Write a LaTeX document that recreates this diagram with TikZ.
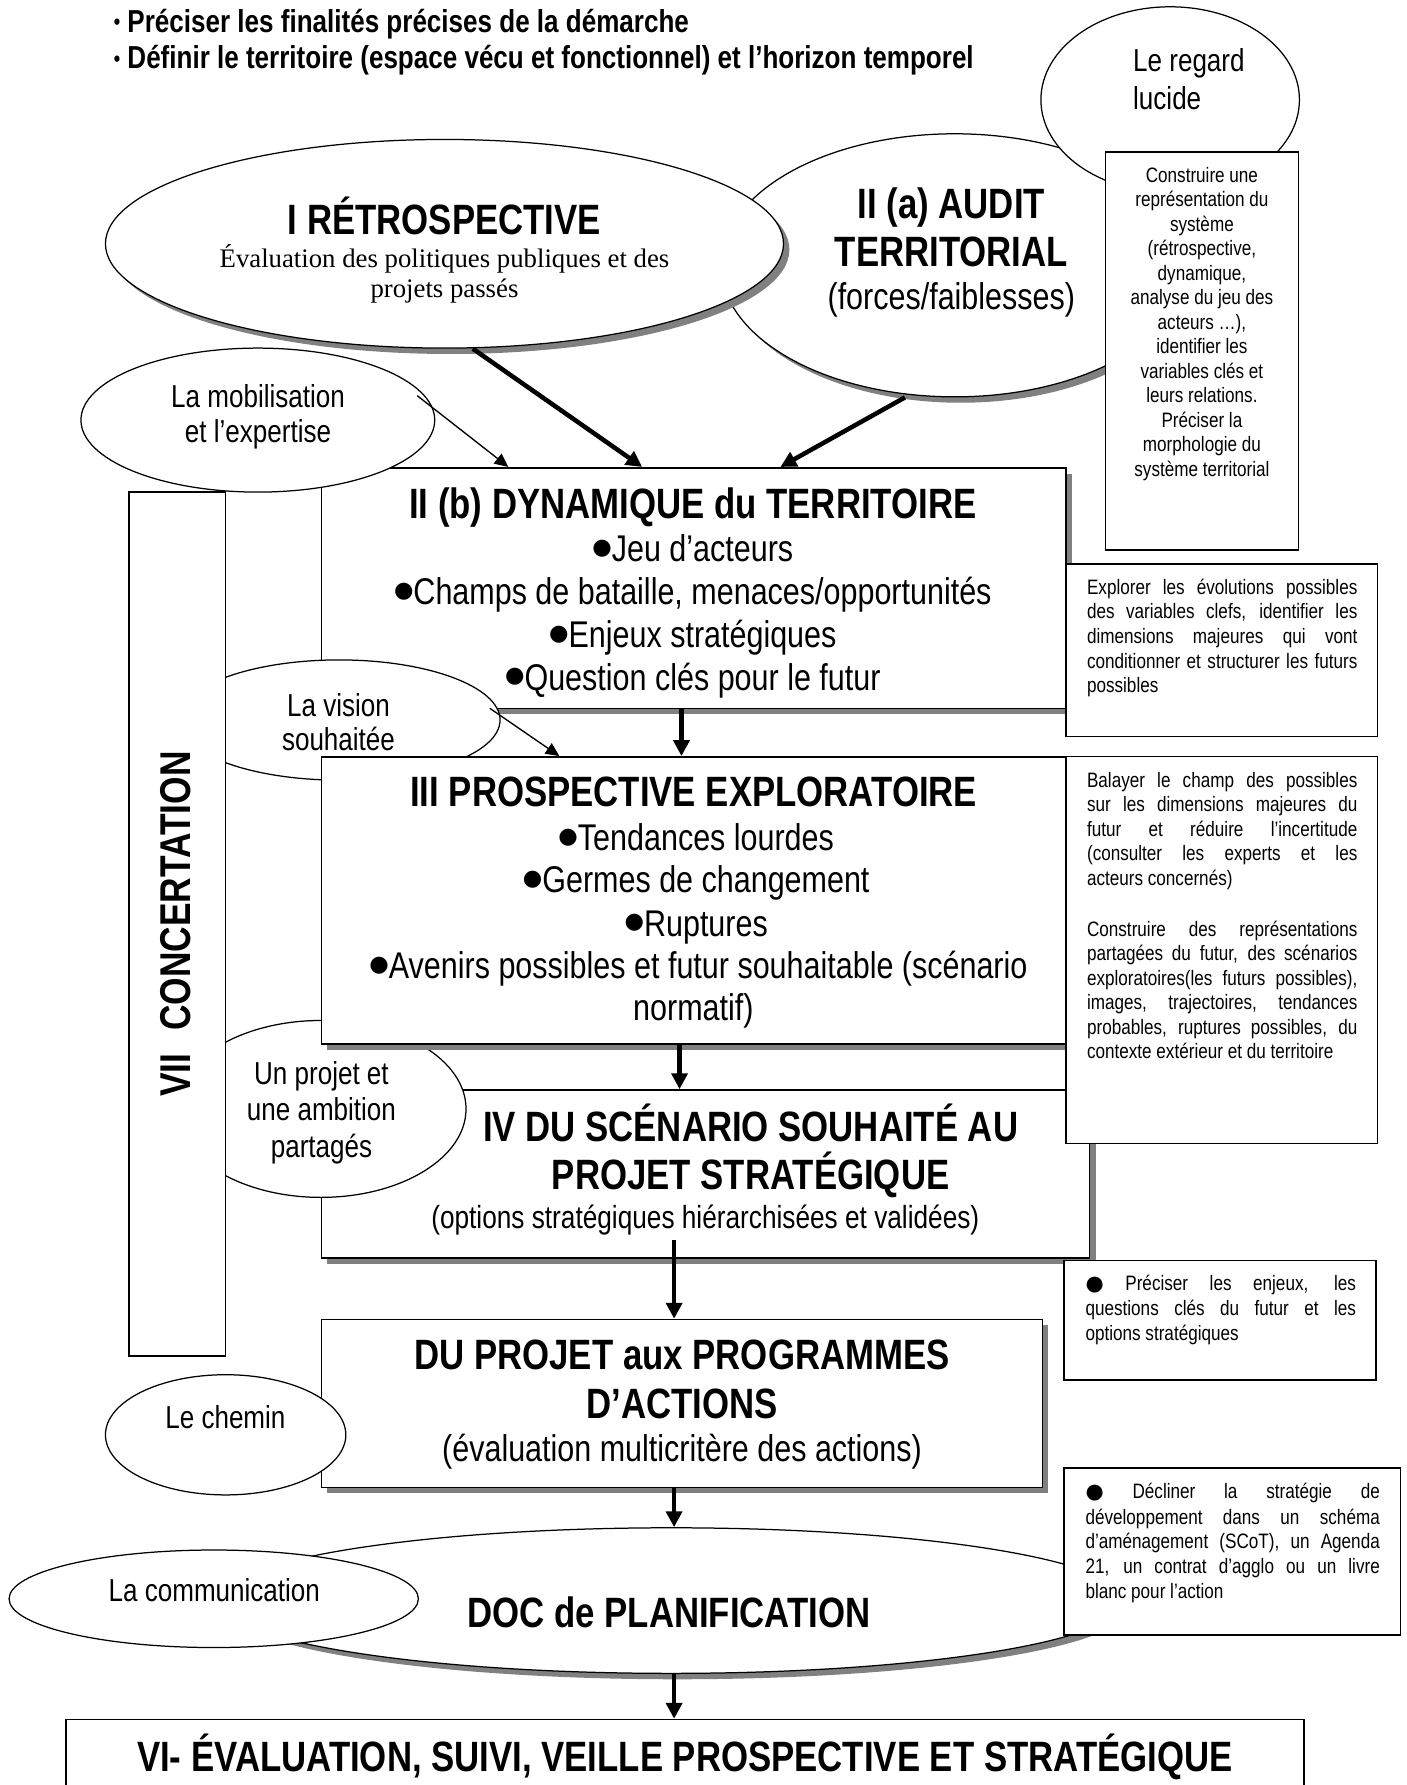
\documentclass[tikz,border=0pt]{standalone}
\usepackage{fontspec}
\setmainfont{Liberation Sans}[FakeStretch=0.82]
\newfontfamily\tnr{Liberation Serif}
\newfontfamily\dejavu{DejaVu Sans}
\usepackage{graphicx}
\usetikzlibrary{shapes.geometric,arrows.meta,shadows,calc}
\newcounter{tl}
\newcommand\txtl[4]{\stepcounter{tl}\node[tl,#3] (tl\arabic{tl}) at (#1,#2) {#4};}
\newcommand\BOX[6]{\node[#6, minimum width={(#4-#2)*0.5pt}, minimum height={(#5-#3)*0.5pt}] (#1) at ({(#2+#4)/2},{(#3+#5)/2}) {};}
\newcommand\ELL[5]{\node[#5, minimum width={#3*1pt}, minimum height={#4*1pt}] (#1) at (#2) {};}
\newcommand\jst[2]{\makebox[#1][s]{#2}}
\newcommand\bul{\raisebox{0.2em}{\scalebox{0.6}{\dejavu ●}}}
\newcommand\sbul{{\dejavu ●}}
\newcommand\tbul{\raisebox{0.08em}{\scalebox{0.7}{•}}}
\begin{document}
\begin{tikzpicture}[x=0.5pt,y=-0.5pt,
  box/.style={draw, line width=0.7pt, fill=white, inner sep=0pt},
  sbox/.style={box, drop shadow={shadow xshift=2.6pt, shadow yshift=-2.6pt, fill=black!50, opacity=1}},
  ell/.style={draw, ellipse, line width=0.55pt, fill=white, inner sep=0pt},
  sell/.style={ell, drop shadow={shadow xshift=2.6pt, shadow yshift=-2.6pt, fill=black!50, opacity=1}},
  tl/.style={inner sep=0pt, anchor=base},
  title/.style={font=\fontsize{18.7}{22}\selectfont\bfseries},
  body/.style={font=\fontsize{16.4}{19}\selectfont},
  bodys/.style={font=\fontsize{14.1}{17}\selectfont},
  lab/.style={font=\fontsize{14}{16}\selectfont},
  side/.style={font=\fontsize{9.2}{11}\selectfont},
  toptxt/.style={font=\fontsize{14}{16}\selectfont\bfseries},
  serif/.style={font=\fontsize{11.8}{13}\selectfont\tnr},
  thickarr/.style={line width=2pt, -{Triangle[length=7pt,width=7pt]}},
  thinarr/.style={line width=0.6pt, -{Triangle[length=6pt,width=5.5pt]}}]
\useasboundingbox (0,0) rectangle (1240,1574.25);
\fill[white] (0,0) rectangle (1240,1574.25);
% top text
\txtl{100}{28.7}{toptxt,anchor=base west}{\tbul{} Préciser les finalités précises de la démarche}
\txtl{100}{60.8}{toptxt,anchor=base west}{\tbul{} Définir le territoire (espace vécu et fonctionnel) et l’horizon temporel}
% top ellipses
\ELL{audit}{842,234}{206}{116}{sell}
\ELL{retro}{392,215}{299}{92}{sell}
\ELL{regard}{1032,88}{114}{82}{ell}
\BOX{constr}{975}{134}{1145}{485}{box}
\txtl{392}{206.6}{title}{I RÉTROSPECTIVE}
\txtl{392}{236.3}{serif}{Évaluation des politiques publiques et des}
\txtl{392}{262.6}{serif}{projets passés}
\txtl{839}{192.4}{title}{II (a) AUDIT}
\txtl{839}{234.6}{title}{TERRITORIAL}
\txtl{839}{273.4}{body}{(forces/faiblesses)}
\txtl{999}{63.5}{lab,anchor=base west}{Le regard}
\txtl{999}{96.2}{lab,anchor=base west}{lucide}
\txtl{1060}{160.6}{side}{Construire une}
\txtl{1060}{182.2}{side}{représentation du}
\txtl{1060}{203.8}{side}{système}
\txtl{1060}{225.4}{side}{(rétrospective,}
\txtl{1060}{247.0}{side}{dynamique,}
\txtl{1060}{268.6}{side}{analyse du jeu des}
\txtl{1060}{290.2}{side}{acteurs …),}
\txtl{1060}{311.8}{side}{identifier les}
\txtl{1060}{333.4}{side}{variables clés et}
\txtl{1060}{355.0}{side}{leurs relations.}
\txtl{1060}{376.6}{side}{Préciser la}
\txtl{1060}{398.2}{side}{morphologie du}
\txtl{1060}{419.8}{side}{système territorial}
% II(b)
\BOX{dyn}{283.5}{412.5}{940}{624.7}{sbox}
\txtl{611}{457.2}{title}{II (b) DYNAMIQUE du TERRITOIRE}
\txtl{611}{495.5}{body}{\bul Jeu d’acteurs}
\txtl{611}{533.5}{body}{\bul Champs de bataille, menaces/opportunités}
\txtl{611}{571.4}{body}{\bul Enjeux stratégiques}
\txtl{611}{608.6}{body}{\bul Question clés pour le futur}
\ELL{mob}{227.4,370.5}{156}{63.5}{ell}
\txtl{227.6}{359.5}{lab}{La mobilisation}
\txtl{227.6}{389.9}{lab}{et l’expertise}
\draw[thickarr] ([xshift=12.5pt]retro.south) -- ([xshift=141.75pt]dyn.north west);
\draw[thickarr] ([xshift=-22pt]audit.south) -- ([xshift=202.75pt]dyn.north west);
\draw[thinarr] ([shift={(70.3pt,10.75pt)}]mob.center) -- ([xshift=82.75pt]dyn.north west);
\BOX{explo}{940}{497.2}{1215}{649.7}{box}
\txtl{958.3}{524.2}{side,anchor=base west}{\jst{119.2pt}{Explorer les évolutions possibles}}
\txtl{958.3}{545.9}{side,anchor=base west}{\jst{119.2pt}{des variables clefs, identifier les}}
\txtl{958.3}{567.6}{side,anchor=base west}{\jst{119.2pt}{dimensions majeures qui vont}}
\txtl{958.3}{589.3}{side,anchor=base west}{\jst{119.2pt}{conditionner et structurer les futurs}}
\txtl{958.3}{611.0}{side,anchor=base west}{possibles}
% vision
\ELL{vision}{299,635}{142}{53}{ell}
\txtl{298.5}{631.5}{lab}{La vision}
\txtl{298.5}{662}{lab}{souhaitée}
% IV
\BOX{iv}{283.5}{961.3}{961}{1109.4}{sbox}
\txtl{662}{1006.8}{title}{IV DU SCÉNARIO SOUHAITÉ AU}
\txtl{662}{1049}{title}{PROJET STRATÉGIQUE}
\txtl{622}{1083.1}{bodys}{(options stratégiques hiérarchisées et validées)}
\ELL{projet}{283,978}{128}{78}{ell}
\txtl{283.5}{956.2}{lab}{Un projet et}
\txtl{283.5}{988.3}{lab}{une ambition}
\txtl{283.5}{1020.4}{lab}{partagés}
% III
\BOX{iii}{283.5}{667.5}{940}{920.7}{sbox}
\txtl{611.7}{711.5}{title}{III PROSPECTIVE EXPLORATOIRE}
\txtl{614}{750.3}{body}{\bul Tendances lourdes}
\txtl{614}{787.4}{body}{\bul Germes de changement}
\txtl{614}{825.5}{body}{\bul Ruptures}
\txtl{616}{863.2}{body}{\bul Avenirs possibles et futur souhaitable (scénario}
\txtl{611.5}{900.3}{body}{normatif)}
\BOX{balay}{940}{667}{1215}{1008.5}{box}
\txtl{958.3}{694.5}{side,anchor=base west}{\jst{119.2pt}{Balayer le champ des possibles}}
\txtl{958.3}{716.0}{side,anchor=base west}{\jst{119.2pt}{sur les dimensions majeures du}}
\txtl{958.3}{737.6}{side,anchor=base west}{\jst{119.2pt}{futur et réduire l’incertitude}}
\txtl{958.3}{759.1}{side,anchor=base west}{\jst{119.2pt}{(consulter les experts et les}}
\txtl{958.3}{780.7}{side,anchor=base west}{acteurs concernés)}
\txtl{958.3}{825.5}{side,anchor=base west}{\jst{119.2pt}{Construire des représentations}}
\txtl{958.3}{847.2}{side,anchor=base west}{\jst{119.2pt}{partagées du futur, des scénarios}}
\txtl{958.3}{868.8}{side,anchor=base west}{\jst{119.2pt}{exploratoires(les futurs possibles),}}
\txtl{958.3}{890.5}{side,anchor=base west}{\jst{119.2pt}{images, trajectoires, tendances}}
\txtl{958.3}{912.1}{side,anchor=base west}{\jst{119.2pt}{probables, ruptures possibles, du}}
\txtl{958.3}{933.8}{side,anchor=base west}{contexte extérieur et du territoire}
% VII
\BOX{vii}{114}{434}{198.8}{1196}{box}
\node[inner sep=0pt, rotate=90, font=\fontsize{19}{22}\selectfont\bfseries] (viit) at (155,815) {VII\hspace{10pt}CONCERTATION};
% arrows
\coordinate (xa) at (601,0);
\coordinate (xb) at (599.3,0);
\coordinate (xc) at (594.5,0);
\draw[thinarr] ([shift={(66.5pt,5.15pt)}]vision.center) -- ([xshift=105.25pt]iii.north west);
\draw[thickarr] (dyn.south -| xa) -- (iii.north -| xa);
\draw[thickarr] (iii.south -| xb) -- (iv.north -| xb);
% Preciser
\BOX{prec}{938.5}{1111.7}{1213.4}{1217.3}{box}
\txtl{957}{1138.5}{side,anchor=base west}{\jst{119.25pt}{\sbul\ Préciser les enjeux, les}}
\txtl{957}{1160.6}{side,anchor=base west}{\jst{119.25pt}{questions clés du futur et les}}
\txtl{957}{1182.2}{side,anchor=base west}{options stratégiques}
% DU PROJET
\BOX{dup}{283.5}{1163.7}{919.3}{1311.8}{sbox}
\txtl{601.5}{1208.2}{title}{DU PROJET aux PROGRAMMES}
\txtl{601.5}{1251}{title}{D’ACTIONS}
\txtl{601.5}{1288.6}{body}{(évaluation multicritère des actions)}
\ELL{chemin}{199,1265.4}{106}{53}{ell}
\txtl{198.8}{1259.8}{lab}{Le chemin}
\coordinate (ivs) at ([yshift=8.2pt]iv.south);
\draw[thickarr] (ivs -| xc) -- (dup.north -| xc);
% DOC
\ELL{doc}{592,1411.6}{400}{64.2}{sell}
\txtl{590}{1435.2}{title}{DOC de PLANIFICATION}
\ELL{comm}{188.5,1410}{180.5}{43}{ell}
\txtl{189}{1412.1}{lab}{La communication}
\BOX{decl}{938.5}{1294.8}{1235.2}{1441.8}{box}
\txtl{957}{1321.8}{side,anchor=base west}{\jst{129.75pt}{\sbul\ Décliner la stratégie de}}
\txtl{957}{1344.2}{side,anchor=base west}{\jst{129.75pt}{développement dans un schéma}}
\txtl{957}{1365.5}{side,anchor=base west}{\jst{129.75pt}{d’aménagement (SCoT), un Agenda}}
\txtl{957}{1387.6}{side,anchor=base west}{\jst{129.75pt}{21, un contrat d’agglo ou un livre}}
\txtl{957}{1410}{side,anchor=base west}{blanc pour l’action}
\draw[thickarr] (dup.south -| xc) -- (doc.north -| xc);
% VI
\BOX{vi}{58.3}{1516.5}{1150}{1600}{box}
\txtl{604}{1562}{title}{VI- ÉVALUATION, SUIVI, VEILLE PROSPECTIVE ET STRATÉGIQUE}
\draw[thickarr] (doc.south -| xc) -- (vi.north -| xc);
\end{tikzpicture}
\end{document}
